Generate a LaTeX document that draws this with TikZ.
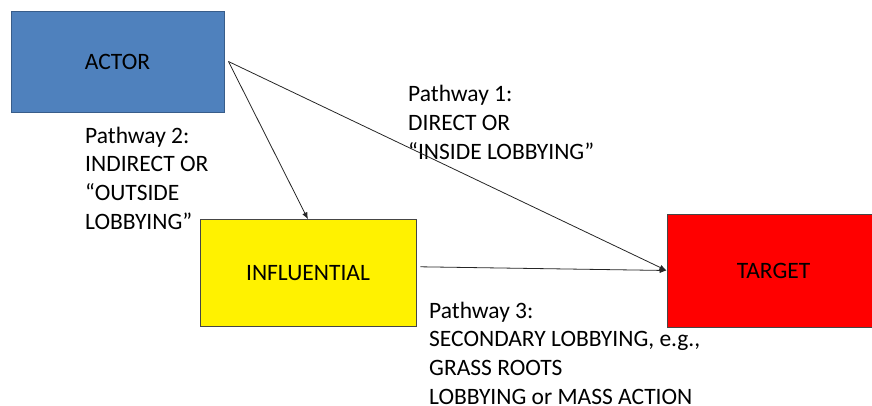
\documentclass[tikz,border=0pt]{standalone}
\usepackage{fontspec}
\setmainfont{Carlito}
\usetikzlibrary{arrows.meta}
\definecolor{actorblue}{RGB}{79,129,189}
\definecolor{actorline}{RGB}{56,93,138}
\definecolor{boxline}{RGB}{70,70,70}
\tikzset{
  box/.style={draw=boxline, line width=0.9pt, inner sep=0pt, align=center,
    font=\fontsize{23.5}{28.7}\selectfont},
  lbl/.style={inner sep=0pt, align=left, anchor=base west,
    font=\fontsize{23.5}{28.7}\selectfont},
  conn/.style={draw=black!85, line width=0.8pt, -{Latex[length=7pt,width=5.5pt]}}
}
\begin{document}
\begin{tikzpicture}[x=1pt,y=-1pt]
\useasboundingbox (0,0) rectangle (872,406);
\node[box, draw=actorline, fill=actorblue, minimum width=213pt, minimum height=101pt] (actor) at (117.5,61.5) {ACTOR};
\node[box, fill=yellow, minimum width=216pt, minimum height=107pt] (infl) at (308,273.3) {INFLUENTIAL};
\node[box, fill=red, minimum width=213pt, minimum height=113pt] (target) at (773.5,270.5) {TARGET};
% anchor base = baseline of the last line
\node[lbl] (p1) at (408,159.4) {Pathway 1:\\DIRECT OR\\“INSIDE LOBBYING”};
\node[lbl] (p2) at (85,229.1) {Pathway 2:\\INDIRECT OR\\“OUTSIDE\\LOBBYING”};
\node[lbl] (p3) at (429,404.1) {Pathway 3:\\SECONDARY LOBBYING, e.g.,\\GRASS ROOTS\\LOBBYING or MASS ACTION};
\draw[conn] ([xshift=4pt]actor.east) -- (target.west);
\draw[conn] ([xshift=4pt]actor.east) -- (infl.north);
\draw[conn] ([xshift=4pt,yshift=6.5pt]infl.east) -- (target.west);
\end{tikzpicture}
\end{document}
